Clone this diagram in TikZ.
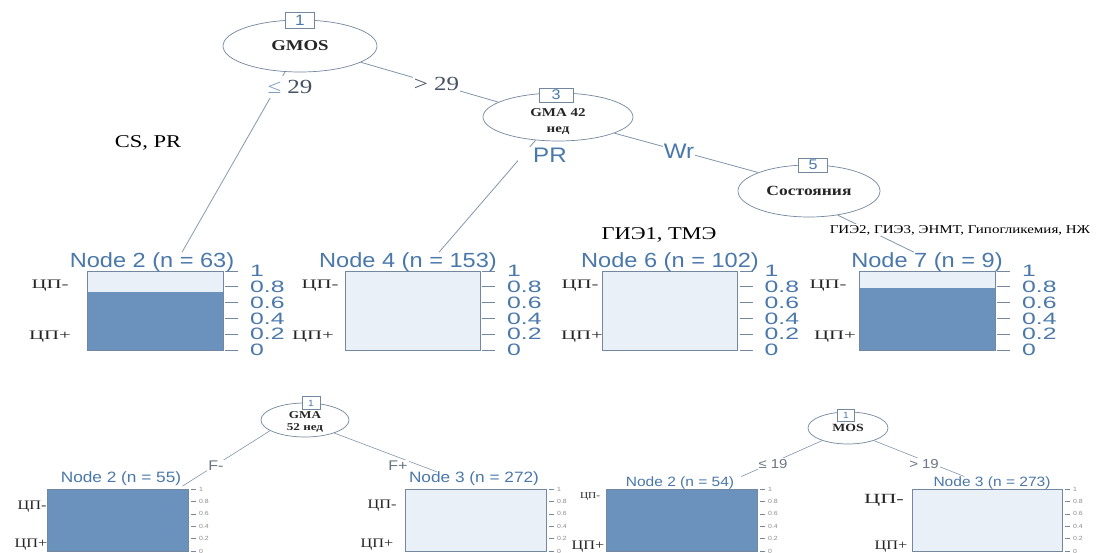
\documentclass[tikz,border=0pt]{standalone}
\usepackage{fontspec}
\setmainfont{Liberation Serif}
\newfontfamily\serifwide[FakeStretch=1.25]{Liberation Serif}
\newfontfamily\serifwider[FakeStretch=1.6]{Liberation Serif}
\newfontfamily\sanswide[FakeStretch=1.15]{Liberation Sans}
\newfontfamily\sanswider[FakeStretch=1.5]{Liberation Sans}
\newcommand\fsz[1]{\fontsize{#1}{#1}\selectfont}
\usetikzlibrary{shapes.geometric}
\definecolor{barblue}{RGB}{106,146,189}
\definecolor{barpale}{RGB}{234,240,248}
\definecolor{titleblue}{RGB}{74,120,170}
\definecolor{edgegray}{RGB}{130,150,170}
\definecolor{framegray}{RGB}{115,135,158}
\definecolor{labelgray}{RGB}{70,82,100}

\begin{document}
\begin{tikzpicture}[x=1pt,y=-1pt,
  splitnode/.style={ellipse, draw=framegray, line width=0.7pt, inner sep=0pt, align=center, text=black!85},
  splittext/.style={inner sep=0pt, align=center, text=black!85},
  idbox/.style={draw=framegray, fill=white, inner sep=0pt, text=titleblue},
  branch/.style={draw=edgegray, line width=0.8pt},
  elabel/.style={fill=white, inner sep=1pt},
  paneltitle/.style={inner sep=0pt, text=titleblue},
  cplabel/.style={inner sep=0pt, text=black!85},
  tickmark/.style={draw=framegray, line width=0.6pt}]
  \fill[white] (0,0) rectangle (1101,553);
  \useasboundingbox (0,0) rectangle (1101,553);

  % first tree: inner nodes
  \node[splitnode, minimum width=154pt, minimum height=52pt, font=\serifwide\bfseries\fsz{15}] (n1) at (300,46) {GMOS};
  \node[splitnode, minimum width=150pt, minimum height=48pt] (n3) at (558,117) {};
  \node[splittext, font=\serifwide\bfseries\fontsize{12}{16}\selectfont] (n3t) at (558,122) {GMA 42\\нед};
  \node[splitnode, minimum width=142pt, minimum height=52pt, font=\serifwide\bfseries\fsz{14}] (n5) at (809,191) {Состояния};

  % first tree: terminal panels
  \foreach \xa/\xb/\share [count=\i] in {87.5/223/0.73, 345/480/0, 602.5/737.5/0, 859/995/0.79}{
    \fill[barpale] (\xa,271) rectangle (\xb,350);
    \fill[barblue] (\xa,350-79*\share) rectangle (\xb,350);
    \draw[framegray, line width=0.6pt] (\xa,271) rectangle (\xb,350);
    \foreach \v [count=\j] in {0,0.2,0.4,0.6,0.8,1}{
      \draw[tickmark] (\xb+2,350-79*\v) -- (\xb+15,350-79*\v);
      \node[anchor=west, inner sep=0pt, text=titleblue, font=\sanswider\fsz{16.5}] (ax\i\j) at (\xb+27,350-79*\v) {\v};
    }
  }
  \node[paneltitle, font=\sanswide\fsz{20.5}] (t2) at (152,262) {Node 2 (n = 63)};
  \node[paneltitle, font=\sanswide\fsz{20.5}] (t4) at (408,262) {Node 4 (n = 153)};
  \node[paneltitle, font=\sanswide\fsz{20.5}] (t6) at (670,262) {Node 6 (n = 102)};
  \node[paneltitle, font=\sanswide\fsz{20.5}] (t7) at (927,262) {Node 7 (n = 9)};

  \node[cplabel, font=\serifwider\fsz{13}] (cm2) at (50,286) {ЦП-};
  \node[cplabel, font=\serifwider\fsz{13}] (cp2) at (50,337) {ЦП+};
  \node[cplabel, font=\serifwider\fsz{13}] (cm4) at (320,286) {ЦП-};
  \node[cplabel, font=\serifwider\fsz{13}] (cp4) at (313,337) {ЦП+};
  \node[cplabel, font=\serifwider\fsz{13}] (cm6) at (580,286) {ЦП-};
  \node[cplabel, font=\serifwider\fsz{13}] (cp6) at (582,337) {ЦП+};
  \node[cplabel, font=\serifwider\fsz{13}] (cm7) at (828,286) {ЦП-};
  \node[cplabel, font=\serifwider\fsz{13}] (cp7) at (835,337) {ЦП+};

  % first tree: branches
  \draw[branch] (n1.240) -- ([xshift=30pt]t2.north);
  \draw[branch] (n1.345) -- node[elabel, pos=0.55, text=labelgray, font=\serifwide\fsz{20}] (l2) {> 29} (n3.166);
  \draw[branch] (n3.226) -- ([xshift=31pt]t4.north);
  \draw[branch] (n3.344) -- node[elabel, pos=0.45, text=titleblue, font=\sanswide\fsz{21}] (l4) {Wr} (n5.160);
  \draw[branch] (n5.320) -- ([xshift=-13pt]t7.north);

  \node[elabel, inner ysep=4pt, text=labelgray, font=\serifwide\fsz{20}] (l1) at (290,87) {{\color{titleblue!70}≤} 29};
  \node[elabel, inner xsep=15pt, text=titleblue, font=\sanswide\fsz{21}] (l3) at (550,155) {PR};
  \node[elabel, font=\serifwide\fsz{12}] (l7) at (960,230) {ГИЭ2, ГИЭ3, ЭНМТ, Гипогликемия, НЖ};
  \node[inner sep=0pt, font=\serifwide\fsz{18}] (l6) at (659,235) {ГИЭ1, ТМЭ};
  \node[inner sep=0pt, font=\serifwide\fsz{18}] (l0) at (148,143) {CS, PR};

  \node[idbox, minimum width=29pt, minimum height=16pt, font=\sanswide\fsz{15}] (i1) at (300,20) {1};
  \node[idbox, minimum width=34pt, minimum height=14pt, font=\sanswide\fsz{14}] (i3) at (556,95) {3};
  \node[idbox, minimum width=29pt, minimum height=14pt, font=\sanswide\fsz{14}] (i5) at (813,165) {5};

  % second and third trees
  \node[splitnode, minimum width=88pt, minimum height=34pt] (m1) at (305,420) {};
  \node[splittext, font=\serifwide\bfseries\fontsize{10.5}{12}\selectfont] (m1t) at (305,422) {GMA\\52 нед};
  \node[splitnode, minimum width=80pt, minimum height=32pt, font=\serifwide\bfseries\fsz{11}] (r1) at (848,428) {MOS};

  \foreach \xa/\xb/\share [count=\i] in {47/188/1, 405/546/0, 606/757/1, 912/1062/0}{
    \fill[barpale] (\xa,489) rectangle (\xb,551);
    \fill[barblue] (\xa,551-62*\share) rectangle (\xb,551);
    \draw[framegray, line width=0.5pt] (\xa,489) rectangle (\xb,551);
    \foreach \v [count=\j] in {0,0.2,0.4,0.6,0.8,1}{
      \draw[tickmark] (\xb+3,551-62*\v) -- (\xb+8,551-62*\v);
      \node[anchor=west, inner sep=0pt, text=black!45, font=\sanswide\fsz{6}] (bx\i\j) at (\xb+11,551-62*\v) {\v};
    }
  }
  \node[paneltitle, font=\sanswide\fsz{15}] (b2) at (121,479) {Node 2 (n = 55)};
  \node[paneltitle, font=\sanswide\fsz{15}] (b3) at (474,479) {Node 3 (n = 272)};
  \node[paneltitle, font=\sanswide\fsz{13.5}] (c2) at (680,483) {Node 2 (n = 54)};
  \node[paneltitle, font=\sanswide\fsz{13.5}] (c3) at (992,483) {Node 3 (n = 273)};

  \node[cplabel, font=\serifwide\fsz{13}] (dm2) at (32,507) {ЦП-};
  \node[cplabel, font=\serifwide\fsz{13}] (dp2) at (31,545) {ЦП+};
  \node[cplabel, font=\serifwide\fsz{13}] (dm3) at (382,506) {ЦП-};
  \node[cplabel, font=\serifwide\fsz{13}] (dp3) at (377,545) {ЦП+};
  \node[cplabel, font=\serifwide\fsz{9}] (em2) at (590,497) {ЦП-};
  \node[cplabel, font=\serifwide\fsz{13}] (ep2) at (588,547) {ЦП+};
  \node[cplabel, font=\serifwider\fsz{14}] (em3) at (884,500) {ЦП-};
  \node[cplabel, font=\serifwide\fsz{13}] (ep3) at (891,547) {ЦП+};

  \draw[branch, line width=0.6pt] (m1.197) -- ([xshift=1pt]b2.south east);
  \draw[branch, line width=0.6pt] (m1.336) -- ([xshift=28pt]b3.north west);
  \draw[branch, line width=0.6pt] (r1.206) -- ([xshift=7pt]c2.north east);
  \draw[branch, line width=0.6pt] (r1.334) -- ([xshift=31pt]c3.north west);

  \node[elabel, text=labelgray!80, font=\sanswide\fsz{14}] (f1) at (216,466) {F-};
  \node[elabel, text=labelgray!80, font=\sanswide\fsz{14}] (f2) at (398,466) {F+};
  \node[elabel, text=labelgray!80, font=\sanswide\fsz{13}] (g1) at (773,464) {≤ 19};
  \node[elabel, text=labelgray!80, font=\sanswide\fsz{13}] (g2) at (924,464) {> 19};

  \node[idbox, minimum width=18pt, minimum height=13pt, font=\sanswide\fsz{9}] (j1) at (311,403) {1};
  \node[idbox, minimum width=17pt, minimum height=12pt, font=\sanswide\fsz{9}] (k1) at (846,415) {1};
\end{tikzpicture}
\end{document}
